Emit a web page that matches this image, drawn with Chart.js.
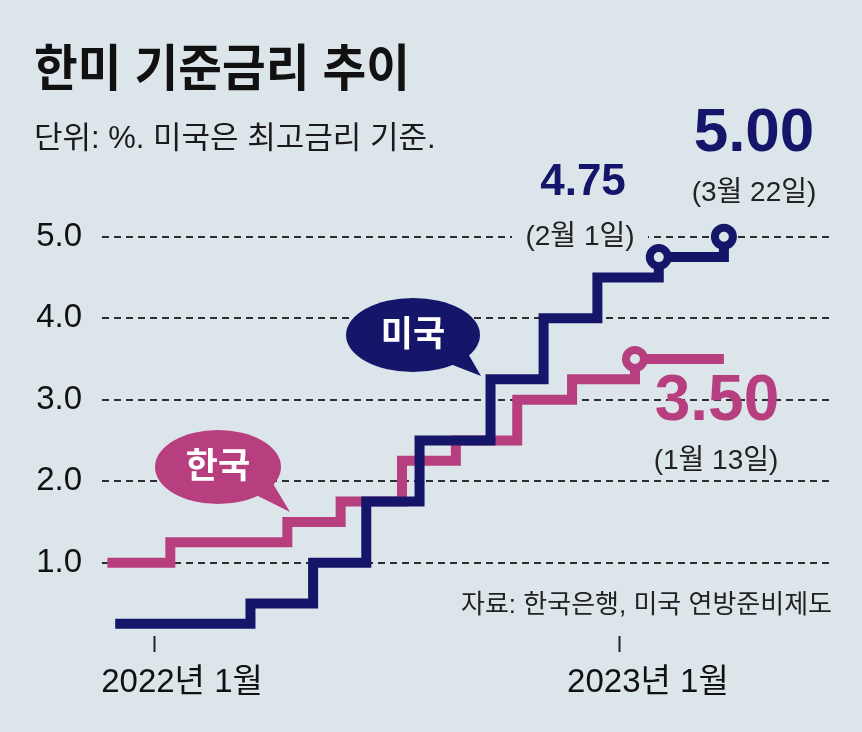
<!DOCTYPE html>
<html lang="ko">
<head>
<meta charset="utf-8">
<script src="https://cdn.jsdelivr.net/npm/chart.js@4.4.1/dist/chart.umd.min.js"></script>
<style>
  html, body { margin: 0; padding: 0; background: #dce5e9; }
  #wrap { width: 862px; height: 732px; }
</style>
</head>
<body>
<div id="wrap"><canvas id="rateChart" width="862" height="732"></canvas></div>
<script>
// 미국 (상단 기준) 금리 변경일과 금리
const usDates = ['2021-12-01', '2022-03-16', '2022-05-04', '2022-06-15', '2022-07-27', '2022-09-21', '2022-11-02', '2022-12-14', '2023-02-01', '2023-03-22'];
const usRates = [0.25, 0.5, 1.0, 1.75, 2.5, 3.25, 4.0, 4.5, 4.75, 5.0];
const usMarked = ['2023-02-01', '2023-03-22'];

// 한국 기준금리 변경일과 금리
const krDates = ['2021-11-25', '2022-01-14', '2022-04-14', '2022-05-26', '2022-07-13', '2022-08-25', '2022-10-12', '2022-11-24', '2023-01-13', '2023-03-22'];
const krRates = [1.0, 1.25, 1.5, 1.75, 2.25, 2.5, 3.0, 3.25, 3.5, 3.5];
const krMarked = ['2023-01-13'];

const yTicks = [1, 2, 3, 4, 5];
const xTickDates = ['2022-01-01', '2023-01-01'];
const xTickLabels = ['2022년 1월', '2023년 1월'];

const BG = '#dce5e9';
const NAVY = '#15166a';
const PINK = '#b73f80';
const FONT = '"Liberation Sans", "Noto Sans CJK KR", sans-serif';

// 2022년 1월 1일 기준 개월 수
function monthIndex(s) {
  const [y, m, d] = s.split('-').map(Number);
  const days = new Date(y, m, 0).getDate();
  return (y - 2022) * 12 + (m - 1) + (d - 1) / days;
}

function toPoints(dates, rates) {
  return dates.map((d, i) => ({ x: monthIndex(d), y: rates[i] }));
}

function markerRadius(dates, marked) {
  return dates.map(d => marked.includes(d) ? 9 : 0);
}

function bubble(ctx, cx, cy, rx, ry, tail, color, text) {
  ctx.save();
  ctx.fillStyle = color;
  ctx.beginPath();
  ctx.ellipse(cx, cy, rx, ry, 0, 0, Math.PI * 2);
  ctx.fill();
  ctx.beginPath();
  ctx.moveTo(tail[0][0], tail[0][1]);
  ctx.lineTo(tail[1][0], tail[1][1]);
  ctx.lineTo(tail[2][0], tail[2][1]);
  ctx.closePath();
  ctx.fill();
  ctx.fillStyle = '#ffffff';
  ctx.font = `bold 35px ${FONT}`;
  ctx.textAlign = 'center';
  ctx.textBaseline = 'middle';
  ctx.fillText(text, cx, cy + 1);
  ctx.restore();
}

function label(ctx, text, x, y, font, color, align) {
  ctx.font = font;
  ctx.fillStyle = color;
  ctx.textAlign = align || 'center';
  ctx.textBaseline = 'middle';
  ctx.fillText(text, x, y);
}

const decorations = {
  id: 'decorations',
  beforeDraw(chart) {
    const ctx = chart.ctx;
    ctx.save();
    ctx.fillStyle = BG;
    ctx.fillRect(0, 0, chart.width, chart.height);
    ctx.restore();
  },
  afterDatasetsDraw(chart) {
    const ctx = chart.ctx;
    ctx.save();
    // 제목 (좁은 글꼴 느낌으로 가로만 살짝 줄임)
    ctx.save();
    ctx.translate(34, 72);
    ctx.scale(0.95, 1);
    label(ctx, '한미 기준금리 추이', 0, 0, `bold 50px ${FONT}`, '#111', 'left');
    ctx.restore();
    label(ctx, '단위: %. 미국은 최고금리 기준.', 34, 139, `31px ${FONT}`, '#1a1a1a', 'left');

    // 값 표시
    label(ctx, '5.00', 754, 134, `bold 62px ${FONT}`, NAVY);
    label(ctx, '(3월 22일)', 754, 193, `28px ${FONT}`, '#222');
    label(ctx, '4.75', 583, 183, `bold 44px ${FONT}`, NAVY);
    ctx.fillStyle = BG;
    ctx.fillRect(512, 224, 136, 26);
    label(ctx, '(2월 1일)', 580, 237, `28px ${FONT}`, '#222');
    label(ctx, '3.50', 717, 402, `bold 64px ${FONT}`, PINK);
    label(ctx, '(1월 13일)', 716, 461, `28px ${FONT}`, '#222');

    label(ctx, '자료: 한국은행, 미국 연방준비제도', 832, 606, `26px ${FONT}`, '#222', 'right');

    // 말풍선
    bubble(ctx, 218, 467, 63, 37, [[250, 492], [272, 482], [290, 512]], PINK, '한국');
    bubble(ctx, 413, 335, 67, 37, [[445, 362], [466, 350], [481, 376]], NAVY, '미국');
    ctx.restore();
  }
};

const xTickValues = xTickDates.map(monthIndex);

new Chart(document.getElementById('rateChart'), {
  type: 'line',
  data: {
    datasets: [
      {
        label: '미국',
        data: toPoints(usDates, usRates),
        borderColor: NAVY,
        borderWidth: 10,
        stepped: true,
        borderJoinStyle: 'miter',
        pointRadius: markerRadius(usDates, usMarked),
        pointBackgroundColor: BG,
        pointBorderColor: NAVY,
        pointBorderWidth: 8,
        clip: false
      },
      {
        label: '한국',
        data: toPoints(krDates, krRates),
        borderColor: PINK,
        borderWidth: 10,
        stepped: true,
        borderJoinStyle: 'miter',
        pointRadius: markerRadius(krDates, krMarked),
        pointBackgroundColor: BG,
        pointBorderColor: PINK,
        pointBorderWidth: 8,
        clip: false
      }
    ]
  },
  options: {
    responsive: false,
    animation: false,
    devicePixelRatio: 1,
    layout: { padding: { top: 196, right: 32, left: 0, bottom: 0 } },
    plugins: {
      legend: { display: false },
      tooltip: { enabled: false }
    },
    scales: {
      x: {
        type: 'linear',
        min: -1.34,
        max: 17.41,
        afterBuildTicks: (scale) => { scale.ticks = xTickValues.map(v => ({ value: v })); },
        afterFit: (scale) => { scale.height = 96; },
        grid: {
          drawOnChartArea: false,
          drawTicks: true,
          tickLength: 16,
          tickColor: '#222',
          tickWidth: 2
        },
        border: { display: false },
        ticks: {
          autoSkip: false,
          maxRotation: 0,
          padding: 11,
          labelOffset: 28,
          color: '#111',
          font: { family: FONT, size: 33 },
          callback: (v, i) => xTickLabels[i]
        }
      },
      y: {
        type: 'linear',
        min: 0.1,
        max: 5.5,
        afterBuildTicks: (scale) => { scale.ticks = yTicks.map(v => ({ value: v })); },
        afterFit: (scale) => { scale.width = 102; },
        grid: {
          drawTicks: false,
          color: '#2e2e2e',
          lineWidth: 2
        },
        border: { display: false, dash: [7, 5] },
        ticks: {
          padding: 20,
          color: '#111',
          font: { family: FONT, size: 33 },
          callback: (v) => v.toFixed(1)
        }
      }
    }
  },
  plugins: [decorations]
});
</script>
</body>
</html>
